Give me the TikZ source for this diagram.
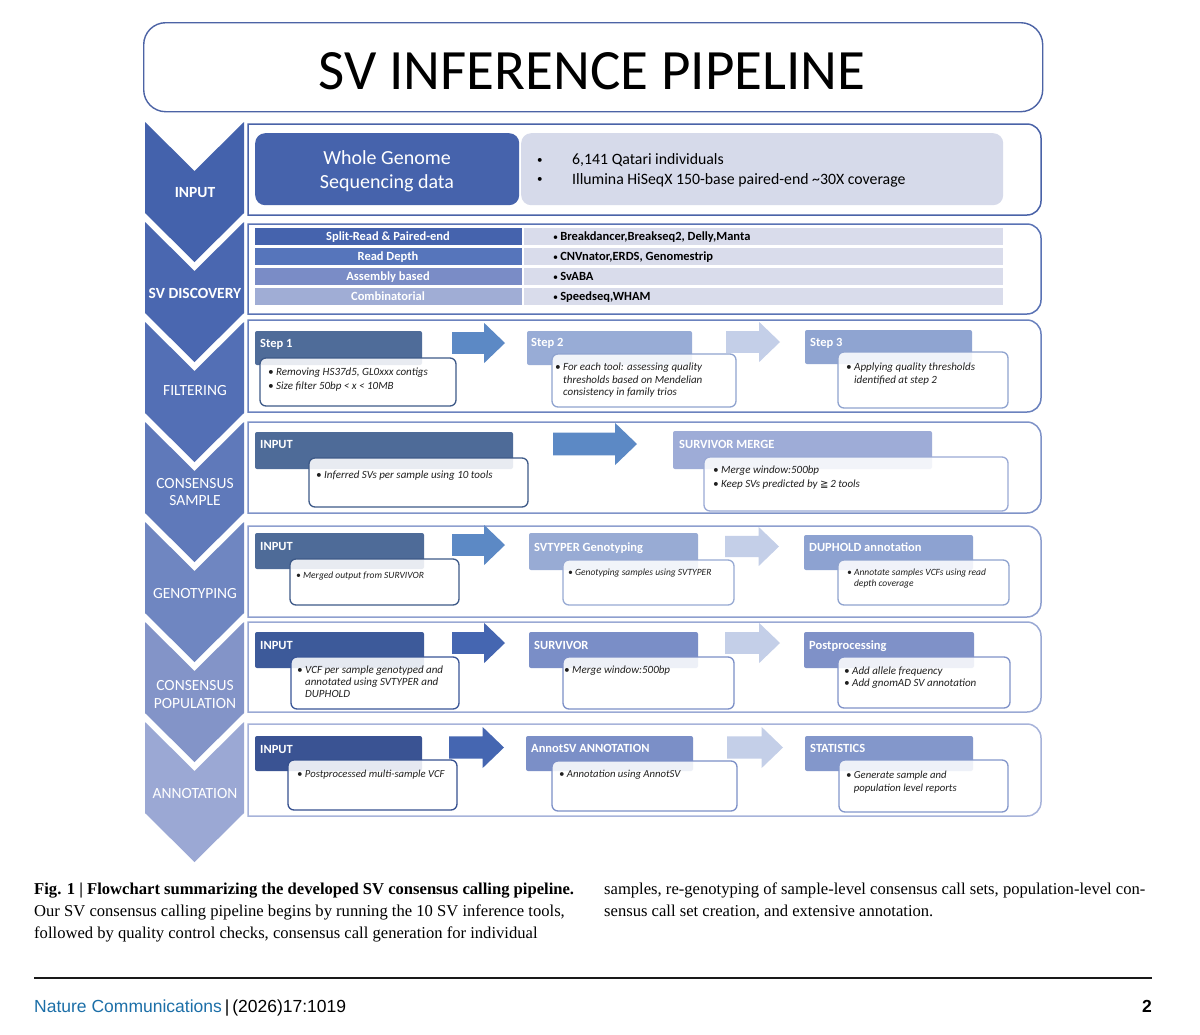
\documentclass[tikz,border=0pt]{standalone}
\usepackage{fontspec}
\setmainfont{Carlito}
\newfontfamily\capfont{Liberation Serif}
\newfontfamily\footfont{Liberation Sans}
\newfontfamily\dvfont{DejaVu Sans}
\usetikzlibrary{calc}

\definecolor{chA}{HTML}{4462AC}
\definecolor{chB}{HTML}{4A67B0}
\definecolor{chC}{HTML}{536FB5}
\definecolor{chD}{HTML}{5F79BA}
\definecolor{chE}{HTML}{6F86C1}
\definecolor{chF}{HTML}{8394C8}
\definecolor{chG}{HTML}{9BA8D4}
\definecolor{rowA}{HTML}{4A63A8}
\definecolor{rowB}{HTML}{5A73B5}
\definecolor{rowC}{HTML}{6B82BE}
\definecolor{rowD}{HTML}{7F93C8}
\definecolor{rowE}{HTML}{8E9FCF}
\definecolor{rowF}{HTML}{9AA9D4}
\definecolor{rowG}{HTML}{A7B3DA}
\definecolor{titleline}{HTML}{4C63A5}
\definecolor{wgsblue}{HTML}{4663AC}
\definecolor{lightpanel}{HTML}{D6DAEA}
\definecolor{barright}{HTML}{D9DCEB}
\definecolor{barA}{HTML}{4563AD}
\definecolor{barB}{HTML}{5675BB}
\definecolor{barC}{HTML}{7A8CC6}
\definecolor{barD}{HTML}{A0ADD5}
\definecolor{slate}{HTML}{4F6C99}
\definecolor{slateB}{HTML}{4E6B98}
\definecolor{slateline}{HTML}{3E5A88}
\definecolor{navy}{HTML}{3D5A9A}
\definecolor{navyB}{HTML}{3A5393}
\definecolor{navyline}{HTML}{36508F}
\definecolor{navylineB}{HTML}{3A5697}
\definecolor{arrMid}{HTML}{5C89C5}
\definecolor{arrDeep}{HTML}{4566B1}
\definecolor{arrPale}{HTML}{C4CFE8}
\definecolor{hStepTwo}{HTML}{98ACD6}
\definecolor{hStepThree}{HTML}{8FA4D1}
\definecolor{hMerge}{HTML}{9EACD7}
\definecolor{hSvtyper}{HTML}{98ABD4}
\definecolor{hDuphold}{HTML}{8DA2D1}
\definecolor{hSurvivor}{HTML}{7A8EC7}
\definecolor{hPost}{HTML}{7F91C8}
\definecolor{hAnnot}{HTML}{7B8FC7}
\definecolor{hStats}{HTML}{8397CB}
\definecolor{lnPale}{HTML}{8FA3CF}
\definecolor{lnMerge}{HTML}{9AA9D5}
\definecolor{lnSvtyper}{HTML}{98AAD3}
\definecolor{lnSurvivor}{HTML}{7C8FC7}
\definecolor{lnPost}{HTML}{8092C9}
\definecolor{lnStats}{HTML}{8497CB}
\definecolor{natblue}{HTML}{1C6FA8}

\tikzset{
  rowline/.style={line width=1.5pt},
  hdr/.style={rounded corners=2pt, inner sep=0pt, outer sep=0pt, anchor=north west},
  htxt/.style={text=white, font=\fontsize{12.5}{15}\selectfont\bfseries, anchor=base west, inner sep=0pt},
  wbox/.style={fill=white, fill opacity=0.87, rounded corners=6pt, line width=1.3pt, inner sep=0pt, outer sep=0pt, anchor=north west},
  wtxt/.style={text=black!88, anchor=base west, inner sep=0pt},
  chevtxt/.style={text=white, font=\fontsize{15.5}{17.5}\selectfont, align=center, inner sep=0pt},
  bartxt/.style={font=\fontsize{12.5}{15}\selectfont\bfseries, inner sep=0pt},
  captxt/.style={anchor=base west, inner sep=0pt, font=\capfont\fontsize{16.6}{22}\selectfont},
}

% chevron: top y, colour
\newcommand\chevron[2]{%
  \fill[#2] (145,#1) -- (194.5,{#1+49}) -- (244,#1) -- (244,{#1+91}) -- (194.5,{#1+140}) -- (145,{#1+91}) -- cycle;}
% row frame: y1, y2, colour
\newcommand\rowframe[3]{%
  \draw[rowline, draw=#3] (248,{(#1+#2)/2}) -- (248,#1) -- (1000,#1) [rounded corners=14pt] -- (1041,#1) -- (1041,#2) -- (1000,#2) [sharp corners] -- (248,#2) -- cycle;}
% header box: name, x1, y1, x2, y2, colour
\newcommand\hdrbox[6]{%
  \node[hdr, fill=#6, minimum width={#4-#2}, minimum height={#5-#3}] (#1) at (#2,#3) {};}
% white box: name, x1, y1, x2, y2, line colour
\newcommand\whitebox[6]{%
  \node[wbox, draw=#6, minimum width={#4-#2}, minimum height={#5-#3}] (#1) at (#2,#3) {};}
% block arrow: x1, y1, x2, y2, colour
\newcommand\blockarrow[5]{%
  \fill[#5] (#1,{#2+0.23*(#4-#2)}) -- ({#3-0.52*(#4-#2)},{#2+0.23*(#4-#2)}) -- ({#3-0.52*(#4-#2)},#2)
    -- (#3,{(#2+#4)/2}) -- ({#3-0.52*(#4-#2)},#4) -- ({#3-0.52*(#4-#2)},{#4-0.23*(#4-#2)})
    -- (#1,{#4-0.23*(#4-#2)}) -- cycle;}
\newcommand\hang{\hphantom{\textbullet~}}
\newcommand\smallbul{{\mdseries\fontsize{10}{10}\selectfont\textbullet}}

\begin{document}
\begin{tikzpicture}[x=1pt,y=-1pt]
\useasboundingbox (0,0) rectangle (1200,1034);
\fill[white] (0,0) rectangle (1200,1034);

% ---------------- title ----------------
\node[draw=titleline, line width=1.4pt, rounded corners=22pt, minimum width=899, minimum height=89, anchor=north west, inner sep=0pt] (titlebox) at (143,22) {};
\node[anchor=base, inner sep=0pt, font=\fontsize{57}{60}\selectfont] (title) at (592,89) {SV INFERENCE PIPELINE};

% ---------------- chevrons ----------------
\chevron{122}{chA}
\chevron{222}{chB}
\chevron{322}{chC}
\chevron{422}{chD}
\chevron{522}{chE}
\chevron{622}{chF}
\chevron{722}{chG}
\node[chevtxt, font=\fontsize{15.5}{17.5}\selectfont\bfseries] (cl1) at (195,193) {INPUT};
\node[chevtxt, font=\fontsize{15.5}{17.5}\selectfont\bfseries] (cl2) at (195,293) {SV DISCOVERY};
\node[chevtxt] (cl3) at (195,391) {FILTERING};
\node[chevtxt] (cl4) at (195,492) {CONSENSUS\\SAMPLE};
\node[chevtxt] (cl5) at (195,594) {GENOTYPING};
\node[chevtxt] (cl6) at (195,694.5) {CONSENSUS\\POPULATION};
\node[chevtxt] (cl7) at (195,794) {ANNOTATION};

% ---------------- row frames ----------------
\rowframe{124}{215}{rowA}
\rowframe{224}{314}{rowB}
\rowframe{320}{412}{rowC}
\rowframe{422}{513}{rowD}
\rowframe{526}{617}{rowE}
\rowframe{622}{712}{rowF}
\rowframe{724}{816}{rowG}

% ---------------- row 1: input ----------------
\node[fill=lightpanel, rounded corners=10pt, minimum width=482, minimum height=72, anchor=north west, inner sep=0pt] (inpanel) at (521,133) {};
\node[fill=wgsblue, rounded corners=10pt, minimum width=264, minimum height=72, anchor=north west, inner sep=0pt] (wgs) at (255,133) {};
\node[text=white, font=\fontsize{20}{24}\selectfont, align=center, inner sep=0pt] (wgstxt) at (387,171) {Whole Genome\\Sequencing data};
\node[anchor=base west, inner sep=0pt, font=\fontsize{11}{12}\selectfont] (inb1) at (537,163) {\textbullet};
\node[anchor=base west, inner sep=0pt, font=\fontsize{15.8}{18}\selectfont] (in1) at (572,164) {6,141 Qatari individuals};
\node[anchor=base west, inner sep=0pt, font=\fontsize{11}{12}\selectfont] (inb2) at (537,182) {\textbullet};
\node[anchor=base west, inner sep=0pt, font=\fontsize{15.8}{18}\selectfont] (in2) at (572,184) {Illumina HiSeqX 150-base paired-end \textasciitilde30X coverage};

% ---------------- row 2: SV discovery ----------------
\node[fill=barright, minimum width=479, minimum height=17, anchor=north west, inner sep=0pt] (rb1) at (524,227.5) {};
\node[fill=barright, minimum width=479, minimum height=17, anchor=north west, inner sep=0pt] (rb2) at (524,247.5) {};
\node[fill=barright, minimum width=479, minimum height=17, anchor=north west, inner sep=0pt] (rb3) at (524,267.5) {};
\node[fill=barright, minimum width=479, minimum height=17, anchor=north west, inner sep=0pt] (rb4) at (524,287.5) {};
\node[fill=barA, minimum width=267, minimum height=17, anchor=north west, inner sep=0pt] (lb1) at (255,227.5) {};
\node[fill=barB, minimum width=267, minimum height=17, anchor=north west, inner sep=0pt] (lb2) at (255,247.5) {};
\node[fill=barC, minimum width=267, minimum height=17, anchor=north west, inner sep=0pt] (lb3) at (255,267.5) {};
\node[fill=barD, minimum width=267, minimum height=17, anchor=north west, inner sep=0pt] (lb4) at (255,287.5) {};
\node[bartxt, text=white, anchor=base] (lt1) at (388,240) {Split-Read \& Paired-end};
\node[bartxt, text=white, anchor=base] (lt2) at (388,260) {Read Depth};
\node[bartxt, text=white, anchor=base] (lt3) at (388,280) {Assembly based};
\node[bartxt, text=white, anchor=base] (lt4) at (388,300) {Combinatorial};
\node[bartxt, anchor=base west] (rt1) at (553,240) {\smallbul\,Breakdancer,Breakseq2, Delly,Manta};
\node[bartxt, anchor=base west] (rt2) at (553,260) {\smallbul\,CNVnator,ERDS, Genomestrip};
\node[bartxt, anchor=base west] (rt3) at (553,280) {\smallbul\,SvABA};
\node[bartxt, anchor=base west] (rt4) at (553,300) {\smallbul\,Speedseq,WHAM};

% ---------------- block arrows ----------------
\blockarrow{452}{323}{505}{363}{arrMid}
\blockarrow{726}{322}{780}{362}{arrPale}
\blockarrow{553}{423}{637}{465}{arrMid}
\blockarrow{452}{525}{505}{565}{arrMid}
\blockarrow{725}{527}{779}{566}{arrPale}
\blockarrow{452}{623}{505}{663}{arrDeep}
\blockarrow{725}{623}{780}{663}{arrPale}
\blockarrow{449}{727}{504}{768}{arrDeep}
\blockarrow{727}{727}{783}{768}{arrPale}

% ---------------- row 3: filtering ----------------
\hdrbox{s1h}{255}{331}{422}{365}{slate}
\hdrbox{s2h}{527}{331}{692}{365}{hStepTwo}
\hdrbox{s3h}{805}{330}{972}{364}{hStepThree}
\node[htxt] (s1t) at (260,347) {Step 1};
\node[htxt] (s2t) at (531,346) {Step 2};
\node[htxt] (s3t) at (810,346) {Step 3};
\whitebox{s1w}{260}{358}{456}{406}{slateline}
\whitebox{s2w}{552}{354}{736}{407}{lnPale}
\whitebox{s3w}{838}{352}{1008}{408}{lnPale}
\node[wtxt, font=\fontsize{11}{13.5}\selectfont\itshape] (s1x) at (268,375.5) {\parbox[t]{190pt}{\raggedright\textbullet~Removing HS37d5, GL0xxx contigs\\\textbullet~Size filter 50bp < x < 10MB}};
\node[wtxt, font=\fontsize{11}{12.5}\selectfont\itshape] (s2x) at (555,370.5) {\parbox[t]{190pt}{\raggedright\textbullet~For each tool: assessing quality\\\hang thresholds based on Mendelian\\\hang consistency in family trios}};
\node[wtxt, font=\fontsize{11}{12.5}\selectfont\itshape] (s3x) at (846,370.5) {\parbox[t]{170pt}{\raggedright\textbullet~Applying quality thresholds\\\hang identified at step 2}};

% ---------------- row 4: consensus sample ----------------
\hdrbox{r4h1}{255}{432}{513}{469}{slateB}
\hdrbox{r4h2}{673}{431}{932}{469}{hMerge}
\node[htxt] (r4t1) at (260,448) {INPUT};
\node[htxt] (r4t2) at (679,448) {SURVIVOR MERGE};
\whitebox{r4w1}{309}{458}{528}{507}{slateline}
\whitebox{r4w2}{704}{457}{1008}{511}{lnMerge}
\node[wtxt, font=\fontsize{11}{13}\selectfont\itshape] (r4x1) at (316,478.5) {\textbullet~Inferred SVs per sample using 10 tools};
\node[wtxt, font=\fontsize{11}{14}\selectfont\itshape] (r4x2) at (713,473.5) {\parbox[t]{260pt}{\raggedright\textbullet~Merge window:500bp\\\textbullet~Keep SVs predicted by {\dvfont\upshape\fontsize{10}{10}\selectfont ≧}\,2 tools}};

% ---------------- row 5: genotyping ----------------
\hdrbox{r5h1}{255}{533}{424}{569}{slateB}
\hdrbox{r5h2}{529}{533}{698}{570}{hSvtyper}
\hdrbox{r5h3}{804}{535}{973}{570}{hDuphold}
\node[htxt] (r5t1) at (260,550) {INPUT};
\node[htxt] (r5t2) at (534,551) {SVTYPER Genotyping};
\node[htxt] (r5t3) at (809,551) {DUPHOLD annotation};
\whitebox{r5w1}{290}{559}{459}{605}{slateline}
\whitebox{r5w2}{563}{560}{734}{605}{lnSvtyper}
\whitebox{r5w3}{838}{560}{1009}{605}{lnPale}
\node[wtxt, font=\fontsize{9.5}{11}\selectfont\itshape] (r5x1) at (296,578) {\textbullet~Merged output from SURVIVOR};
\node[wtxt, font=\fontsize{9.5}{11}\selectfont\itshape] (r5x2) at (568,575) {\textbullet~Genotyping samples using SVTYPER};
\node[wtxt, font=\fontsize{9.5}{11}\selectfont\itshape] (r5x3) at (847,575) {\parbox[t]{160pt}{\raggedright\textbullet~Annotate samples VCFs using read\\\hang depth coverage}};

% ---------------- row 6: consensus population ----------------
\hdrbox{r6h1}{255}{632}{424}{668}{navy}
\hdrbox{r6h2}{529}{632}{698}{668}{hSurvivor}
\hdrbox{r6h3}{804}{632}{974}{668}{hPost}
\node[htxt] (r6t1) at (260,649) {INPUT};
\node[htxt] (r6t2) at (534,649) {SURVIVOR};
\node[htxt] (r6t3) at (809,649) {Postprocessing};
\whitebox{r6w1}{291}{657}{459}{709}{navylineB}
\whitebox{r6w2}{563}{657}{734}{709}{lnSurvivor}
\whitebox{r6w3}{838}{657}{1010}{708}{lnPost}
\node[wtxt, font=\fontsize{11}{12}\selectfont\itshape] (r6x1) at (297,673.5) {\parbox[t]{160pt}{\raggedright\textbullet~VCF per sample genotyped and\\\hang annotated using SVTYPER and\\\hang DUPHOLD}};
\node[wtxt, font=\fontsize{11}{12}\selectfont\itshape] (r6x2) at (564,673.5) {\textbullet~Merge window:500bp};
\node[wtxt, font=\fontsize{11}{11.5}\selectfont\itshape] (r6x3) at (844,674.5) {\parbox[t]{160pt}{\raggedright\textbullet~Add allele frequency\\\textbullet~Add gnomAD SV annotation}};

% ---------------- row 7: annotation ----------------
\hdrbox{r7h1}{255}{736}{422}{771}{navyB}
\hdrbox{r7h2}{526}{736}{693}{771}{hAnnot}
\hdrbox{r7h3}{805}{736}{973}{771}{hStats}
\node[htxt] (r7t1) at (260,753) {INPUT};
\node[htxt] (r7t2) at (531,752) {AnnotSV ANNOTATION};
\node[htxt] (r7t3) at (810,752) {STATISTICS};
\whitebox{r7w1}{288}{760}{457}{810}{navyline}
\whitebox{r7w2}{552}{761}{737}{811}{lnSurvivor}
\whitebox{r7w3}{839}{760}{1008}{812}{lnStats}
\node[wtxt, font=\fontsize{10.7}{12}\selectfont\itshape] (r7x1) at (297,777.5) {\textbullet~Postprocessed multi-sample VCF};
\node[wtxt, font=\fontsize{10.7}{12}\selectfont\itshape] (r7x2) at (559,777.5) {\textbullet~Annotation using AnnotSV};
\node[wtxt, font=\fontsize{10.7}{13}\selectfont\itshape] (r7x3) at (846,778.5) {\parbox[t]{160pt}{\raggedright\textbullet~Generate sample and\\\hang population level reports}};

% ---------------- caption ----------------
\node[captxt, font=\capfont\fontsize{16.6}{22}\selectfont\bfseries] (cap1) at (34,894) {Fig. 1 | Flowchart summarizing the developed SV consensus calling pipeline.};
\node[captxt] (cap2) at (34,916) {Our SV consensus calling pipeline begins by running the 10 SV inference tools,};
\node[captxt] (cap3) at (34,938) {followed by quality control checks, consensus call generation for individual};
\node[captxt] (cap4) at (604,894) {samples, re-genotyping of sample-level consensus call sets, population-level con-};
\node[captxt] (cap5) at (604,916) {sensus call set creation, and extensive annotation.};

% ---------------- footer ----------------
\coordinate (ruleL) at (34,978);
\coordinate (ruleR) at (1152,978);
\draw[line width=2pt, black!90] (ruleL) -- (ruleR);
\node[anchor=base west, inner sep=0pt, font=\footfont\fontsize{17.5}{20}\selectfont] (foot) at (34,1012) {\textcolor{natblue}{Nature Communications}\,|\,(2026)17:1019};
\node[anchor=base east, inner sep=0pt, font=\footfont\fontsize{17.5}{20}\selectfont\bfseries] (pageno) at (1152,1012) {2};
\end{tikzpicture}
\end{document}
